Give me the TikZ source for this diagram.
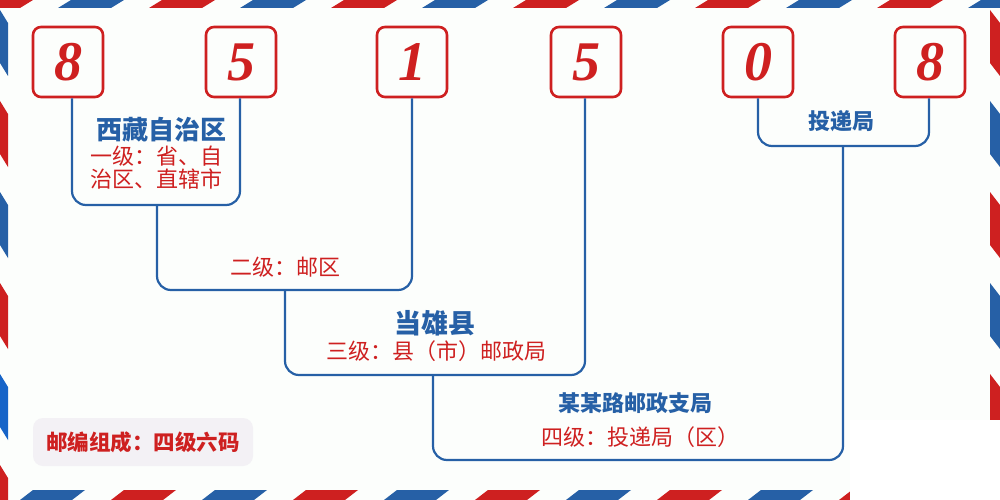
\documentclass[tikz,border=0pt]{standalone}
\usepackage{fontspec}
\setmainfont{Liberation Serif}
\newfontfamily\cjk{Noto Sans CJK SC}
\definecolor{pred}{RGB}{206,32,32}
\definecolor{pblue}{RGB}{38,96,166}
\definecolor{pblue2}{RGB}{22,100,200}
\definecolor{bg}{RGB}{252,254,252}
\definecolor{tagbg}{RGB}{243,241,245}
\begin{document}
\begin{tikzpicture}[x=1pt,y=-1pt,
  digitbox/.style={draw=pred, line width=2.6pt, rounded corners=8pt, minimum width=70pt, minimum height=70pt, inner sep=0pt, text=pred, font=\fontsize{56}{56}\selectfont\bfseries\itshape},
  conn/.style={draw=pblue, line width=2.2pt, rounded corners=14pt},
  title/.style={text=pblue, font=\cjk\bfseries\fontsize{26}{26}\selectfont, inner sep=0pt},
  titlesm/.style={text=pblue, font=\cjk\bfseries\fontsize{22}{22}\selectfont, inner sep=0pt},
  sub/.style={text=pred, font=\cjk\fontsize{22}{23}\selectfont, inner sep=0pt, align=center},
  tag/.style={fill=tagbg, rounded corners=10pt, minimum width=220pt, minimum height=48pt, inner sep=0pt, text=pred, font=\cjk\bfseries\fontsize{21.5}{21.5}\selectfont}]
\useasboundingbox (0,0) rectangle (1000,500);
\fill[bg] (0,0) rectangle (1000,500);
% airmail border
\foreach \s/\c in {-33/pred,58/pblue,149/pred,240/pblue,331/pred,422/pblue,513/pred,604/pblue,695/pred,786/pblue,877/pred,968/pblue}
  \fill[\c] (\s,8) -- ++(53,0) -- ++(13,-8) -- ++(-53,0) -- cycle;
\foreach \s/\c in {20/pblue,111/pred,202/pblue,293/pred,384/pblue,475/pred,566/pblue,657/pred,748/pblue,839/pred,930/pblue}
  \fill[\c] (\s,500) -- ++(52,0) -- ++(13,-10) -- ++(-52,0) -- cycle;
\foreach \s/\c in {10/pblue,101/pred,192/pblue,283/pred,374/pblue2,465/pred}
  \fill[\c] (0,\s) -- ++(8,13) -- ++(0,53) -- ++(-8,-13) -- cycle;
\foreach \s/\c in {10/pred,101/pblue,192/pred,283/pblue,374/pred}
  \fill[\c] (990,\s) -- ++(10,13) -- ++(0,53) -- ++(-10,-13) -- cycle;
\fill[white] (850,420) rectangle (1000,500);
% digit boxes
\node[digitbox] (d1) at (68,62) {8};
\node[digitbox] (d2) at (241,62) {5};
\node[digitbox] (d3) at (412,62) {1};
\node[digitbox] (d4) at (586,62) {5};
\node[digitbox] (d5) at (758,62) {0};
\node[digitbox] (d6) at (930,62) {8};
% junctions
\coordinate (j1) at (157,205);
\coordinate (j2) at (285,290);
\coordinate (j3) at (433,375);
\coordinate (j4) at (640,460);
\coordinate (j5) at (843,146);
\draw[conn] ([xshift=4pt]d1.south) |- (j1) -| ([xshift=-1pt]d2.south);
\draw[conn] (j1) |- (j2) -| (d3.south);
\draw[conn] (j2) |- (j3) -| ([xshift=-1pt]d4.south);
\draw[conn] (j3) |- (j4) -| (j5);
\draw[conn] (d5.south) |- (j5) -| ([xshift=-1pt]d6.south);
% texts
\node[title] (t1) at (161,130) {西藏自治区};
\node[sub] (l1) at (156,168) {一级：省、自\\治区、直辖市};
\node[sub] (l2) at (285,267) {二级：邮区};
\node[title, font=\cjk\bfseries\fontsize{27}{27}\selectfont] (t3) at (435,323) {当雄县};
\node[sub] (l3) at (436,351) {三级：县（市）邮政局};
\node[titlesm] (t4) at (635,403) {某某路邮政支局};
\node[sub] (l4) at (640,437) {四级：投递局（区）};
\node[titlesm] (t5) at (841,121) {投递局};
\node[tag] (tg) at (143,442) {邮编组成：四级六码};
\end{tikzpicture}
\end{document}
